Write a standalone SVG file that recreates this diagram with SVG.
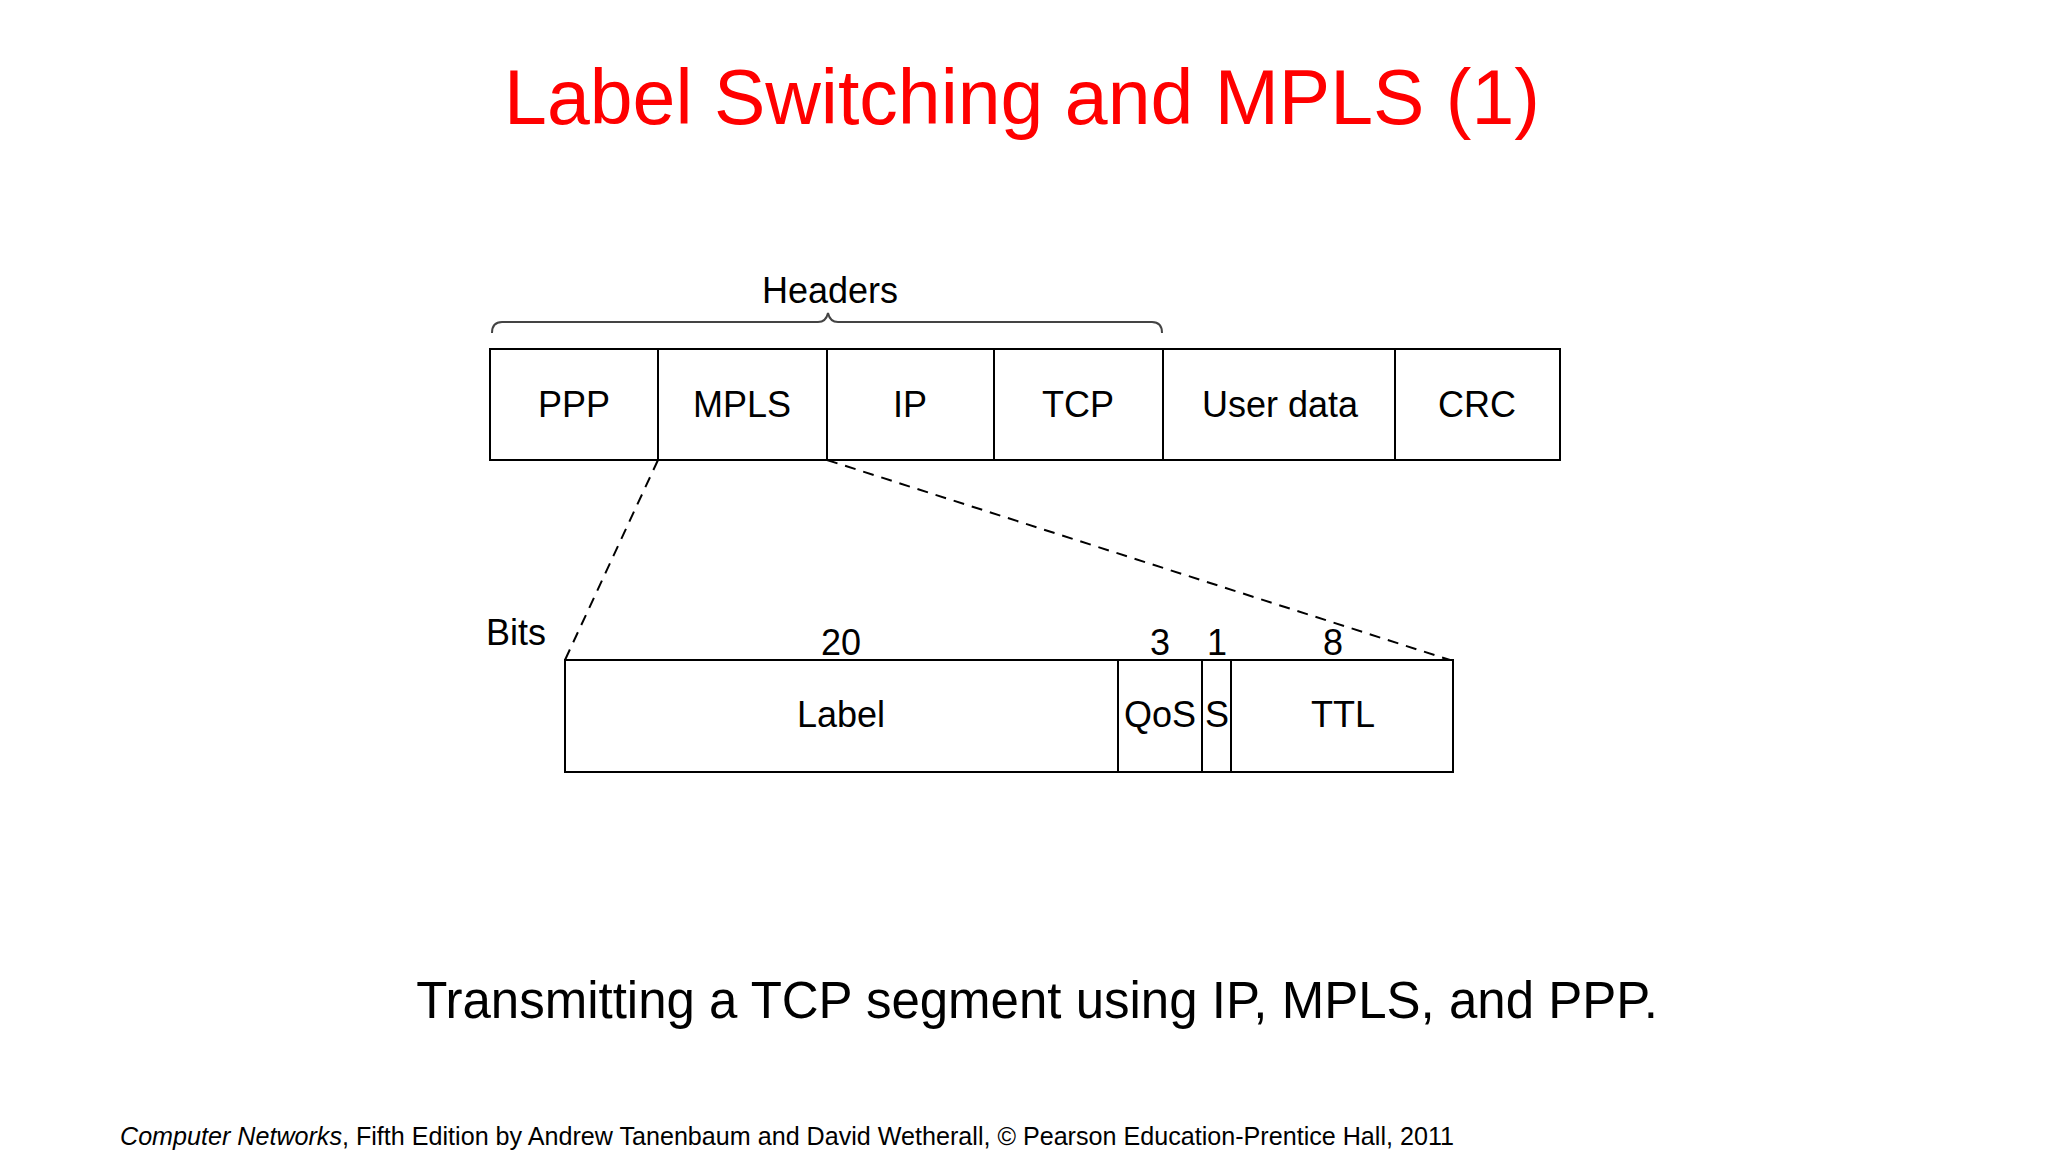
<svg xmlns="http://www.w3.org/2000/svg" width="2048" height="1152" viewBox="0 0 2048 1152">
<style>
.t{font-family:"Liberation Sans",Arial,sans-serif;fill:#000}
.lbl{font-size:36px;text-anchor:middle}
.box{fill:#fff;stroke:#000;stroke-width:2}
.div{stroke:#000;stroke-width:2}
.dash{stroke:#000;stroke-width:2;stroke-dasharray:11 8;fill:none}
</style>
<rect width="2048" height="1152" fill="#fff"/>
<text class="t" x="1022" y="124" font-size="77" text-anchor="middle" style="fill:#f00">Label Switching and MPLS (1)</text>

<g id="headers-brace">
<path d="M492,333 Q492,322 502,322 L818,322 Q826,322 828,313 Q830,322 838,322 L1152,322 Q1162,322 1162,333" fill="none" stroke="#444" stroke-width="2"/>
<text class="t" x="830" y="303" font-size="36" text-anchor="middle">Headers</text>
</g>

<g id="packet">
<rect class="box" x="490" y="349" width="1070" height="111"/>
<g id="ppp"><text class="t lbl" x="574" y="417">PPP</text></g>
<g id="mpls"><line class="div" x1="658" y1="349" x2="658" y2="460"/><text class="t lbl" x="742" y="417">MPLS</text></g>
<g id="ip"><line class="div" x1="827" y1="349" x2="827" y2="460"/><text class="t lbl" x="910" y="417">IP</text></g>
<g id="tcp"><line class="div" x1="994" y1="349" x2="994" y2="460"/><text class="t lbl" x="1078" y="417">TCP</text></g>
<g id="userdata"><line class="div" x1="1163" y1="349" x2="1163" y2="460"/><text class="t lbl" x="1280" y="417">User data</text></g>
<g id="crc"><line class="div" x1="1395" y1="349" x2="1395" y2="460"/><text class="t lbl" x="1477" y="417">CRC</text></g>
</g>

<g id="connectors">
<line class="dash" x1="658" y1="460" x2="565" y2="660"/>
<line class="dash" x1="827" y1="460" x2="1450" y2="660"/>
</g>

<g id="mpls-header">
<text class="t" x="486" y="645" font-size="36">Bits</text>
<rect class="box" x="565" y="660" width="888" height="112"/>
<g id="label"><text class="t lbl" x="841" y="655">20</text><text class="t lbl" x="841" y="727">Label</text></g>
<g id="qos"><line class="div" x1="1118" y1="660" x2="1118" y2="772"/><text class="t lbl" x="1160" y="655">3</text><text class="t lbl" x="1160" y="727">QoS</text></g>
<g id="s"><line class="div" x1="1202" y1="660" x2="1202" y2="772"/><text class="t lbl" x="1217" y="655">1</text><text class="t lbl" x="1217" y="727">S</text></g>
<g id="ttl"><line class="div" x1="1231" y1="660" x2="1231" y2="772"/><text class="t lbl" x="1333" y="655">8</text><text class="t lbl" x="1343" y="727">TTL</text></g>
</g>

<text class="t" x="1037" y="1018" font-size="51" text-anchor="middle">Transmitting a TCP segment using IP, MPLS, and PPP.</text>

<text class="t" x="120" y="1145" font-size="25" textLength="1334" lengthAdjust="spacingAndGlyphs"><tspan font-style="italic">Computer Networks</tspan>, Fifth Edition by Andrew Tanenbaum and David Wetherall, © Pearson Education-Prentice Hall, 2011</text>
</svg>
